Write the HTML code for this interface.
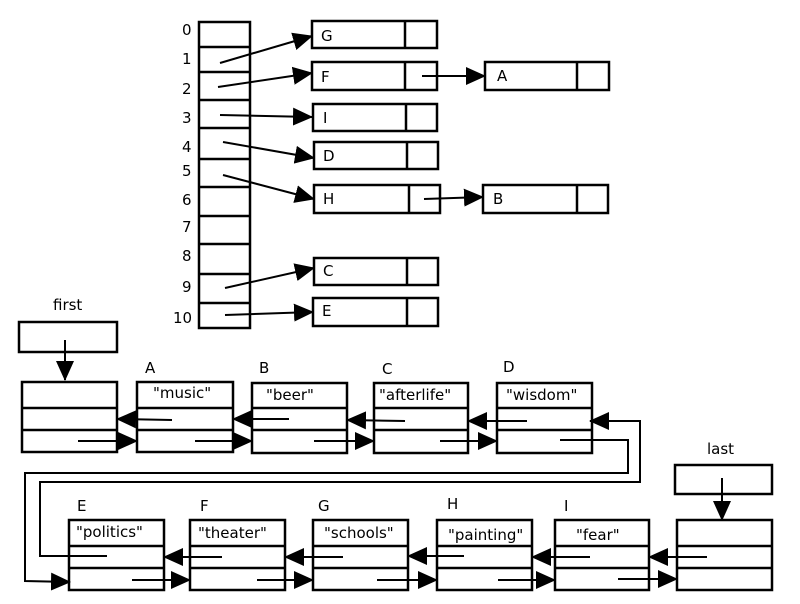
<!DOCTYPE html>
<html><head><meta charset="utf-8"><style>
html,body{margin:0;padding:0;background:#fff;width:800px;height:604px;overflow:hidden}
svg{display:block}
text{font-family:"DejaVu Sans","Liberation Sans",sans-serif;font-size:15px;fill:#000}
</style></head><body>
<svg width="800" height="604" viewBox="0 0 800 604" xmlns="http://www.w3.org/2000/svg">
<defs>
<marker id="b" markerWidth="20" markerHeight="20" refX="19" refY="10" orient="auto" markerUnits="userSpaceOnUse" viewBox="0 0 20 20"><path d="M0,1 L20,10 L0,19 z" fill="#000"/></marker></defs>
<g stroke="#000" stroke-width="2.5" fill="none">
<rect x="199" y="22" width="51" height="306"/>
<path d="M199 47H250M199 72H250M199 100H250M199 128H250M199 159H250M199 187H250M199 216H250M199 244H250M199 274H250M199 303H250"/>
<rect x="312" y="21" width="125" height="27"/><path d="M405 21V48"/>
<rect x="312" y="62" width="125" height="28"/><path d="M405 62V90"/>
<rect x="313" y="104" width="124" height="27"/><path d="M406 104V131"/>
<rect x="314" y="142" width="124" height="27"/><path d="M407 142V169"/>
<rect x="314" y="185" width="126" height="28"/><path d="M409 185V213"/>
<rect x="314" y="258" width="124" height="27"/><path d="M407 258V285"/>
<rect x="313" y="298" width="125" height="28"/><path d="M407 298V326"/>
<rect x="485" y="62" width="124" height="28"/><path d="M577 62V90"/>
<rect x="483" y="185" width="125" height="28"/><path d="M577 185V213"/>
</g>
<g stroke="#000" stroke-width="2" fill="none" marker-end="url(#b)">
<path d="M220 63L312 36"/><path d="M218 87L312 73"/><path d="M220 115L312 117"/>
<path d="M223 142L314 158"/><path d="M223 175L314 199"/><path d="M225 288L314 268"/>
<path d="M225 315L313 312"/><path d="M422 76L485 76"/><path d="M424 199L483 197"/>
</g>
<g>
<text x="182" y="35">0</text><text x="182" y="64">1</text><text x="182" y="94">2</text><text x="182" y="123">3</text><text x="182" y="152">4</text><text x="182" y="176">5</text><text x="182" y="205">6</text><text x="182" y="232">7</text><text x="182" y="261">8</text><text x="182" y="292">9</text><text x="173" y="323">10</text>
<text x="321" y="41">G</text><text x="321" y="82">F</text><text x="323" y="123">I</text><text x="323" y="161">D</text><text x="323" y="204">H</text><text x="323" y="276">C</text><text x="322" y="316">E</text><text x="497" y="81">A</text><text x="493" y="204">B</text>
</g>
<g stroke="#000" stroke-width="2.5" fill="none">
<rect x="19" y="322" width="98" height="30"/>
<rect x="675" y="465" width="97" height="29"/>
<rect x="22" y="382" width="95" height="70"/><path d="M22 408H117M22 430H117"/>
<rect x="137" y="382" width="96" height="70"/><path d="M137 408H233M137 430H233"/>
<rect x="252" y="383" width="95" height="70"/><path d="M252 408H347M252 430H347"/>
<rect x="374" y="383" width="94" height="70"/><path d="M374 408H468M374 430H468"/>
<rect x="497" y="383" width="95" height="70"/><path d="M497 408H592M497 430H592"/>
<rect x="69" y="520" width="95" height="70"/><path d="M69 546H164M69 568H164"/>
<rect x="190" y="520" width="95" height="70"/><path d="M190 546H285M190 568H285"/>
<rect x="313" y="520" width="95" height="70"/><path d="M313 546H408M313 568H408"/>
<rect x="437" y="520" width="95" height="70"/><path d="M437 546H532M437 568H532"/>
<rect x="555" y="520" width="94" height="70"/><path d="M555 546H649M555 568H649"/>
<rect x="677" y="520" width="95" height="70"/><path d="M677 546H772M677 568H772"/>
</g>
<g stroke="#000" stroke-width="2" fill="none" marker-end="url(#b)">
<path d="M65 340V380"/><path d="M722 478V520"/>
<path d="M172 420L117 419"/><path d="M78 441L137 441"/>
<path d="M289 419L233 419"/><path d="M195 441L252 441"/>
<path d="M405 421L347 420"/><path d="M314 441L374 441"/>
<path d="M527 421L468 421"/><path d="M440 441L497 441"/>
<path d="M560 440H628V473H25V581L70 582"/>
<path d="M107 556H40V482H640V421H590"/>
<path d="M222 557H164"/><path d="M132 580H190"/>
<path d="M343 557H285"/><path d="M257 580H313"/>
<path d="M464 556H408"/><path d="M377 580H437"/>
<path d="M590 557H532"/><path d="M498 580H555"/>
<path d="M707 557H649"/><path d="M618 579H677"/>
</g>
<g>
<text x="53" y="310">first</text><text x="707" y="454">last</text>
<text x="145" y="373">A</text><text x="259" y="373">B</text><text x="382" y="374">C</text><text x="503" y="372">D</text>
<text x="77" y="511">E</text><text x="200" y="511">F</text><text x="318" y="511">G</text><text x="447" y="509">H</text><text x="564" y="511">I</text>
<text x="153" y="398">"music"</text><text x="266" y="400">"beer"</text><text x="379" y="400">"afterlife"</text><text x="506" y="400">"wisdom"</text>
<text x="76" y="537">"politics"</text><text x="198" y="538">"theater"</text><text x="324" y="538">"schools"</text><text x="448" y="540">"painting"</text><text x="576" y="540">"fear"</text>
</g>
</svg>
</body></html>
